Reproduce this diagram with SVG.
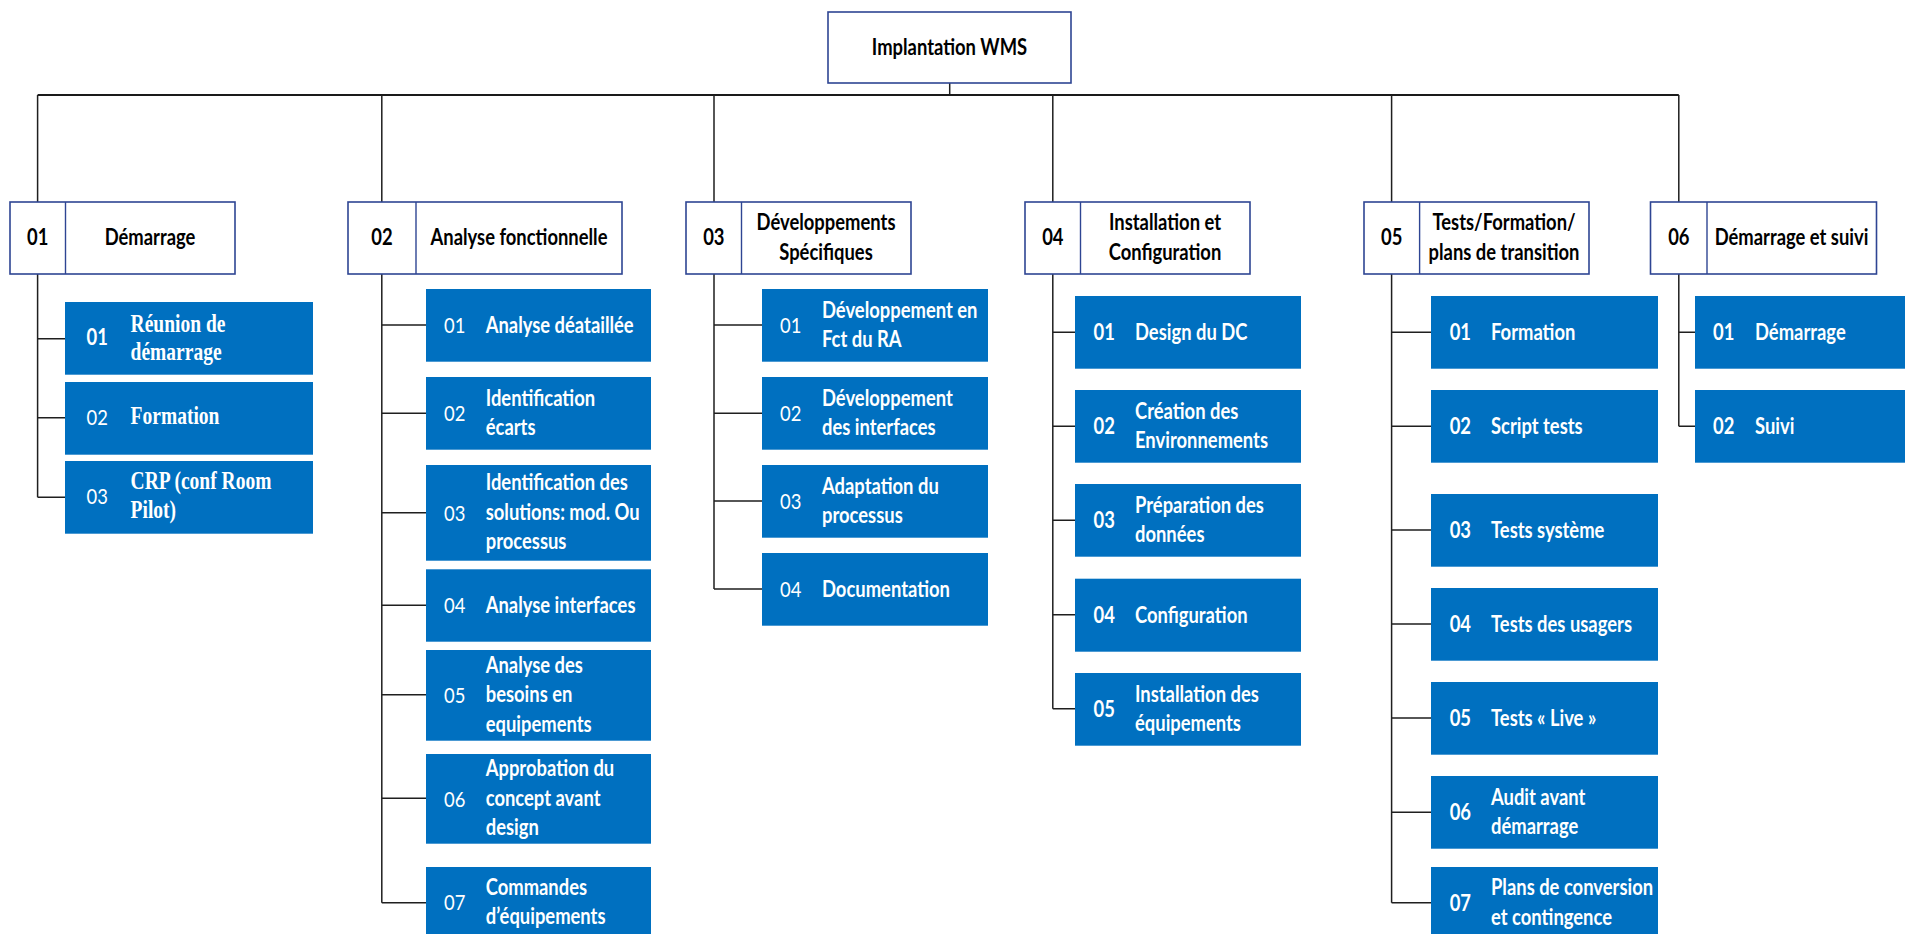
<svg xmlns="http://www.w3.org/2000/svg" width="1905" height="934" viewBox="0 0 1905 934">
  <style>
    .bg { fill: #ffffff; }
    .head { fill: #ffffff; stroke: #2E4593; stroke-width: 1.6; }
    .div { stroke: #2E4593; stroke-width: 1.4; }
    .task { fill: #0070C0; }
    .link { fill: none; stroke: #1f1f1f; stroke-width: 1.5; }
    .bus { fill: none; stroke: #1a1a1a; stroke-width: 2.2; }
    .t { font-family: Lato, "Liberation Sans", sans-serif; font-weight: 700; font-size: 18.4px; }
    .reg { font-weight: 400; }
    .serif { font-family: "Liberation Serif", "Times New Roman", serif; font-weight: 700; font-size: 19.5px; }
    .w { fill: #ffffff; }
    .k { fill: #000000; }
    .mid { text-anchor: middle; }
  </style>
  <rect class="bg" x="0" y="0" width="1905" height="934"/>

  <!-- connectors -->
  <g id="connectors">
    <path class="link" d="M949.7 83 V95"/>
    <path class="bus" d="M37.6 95 H1678.8"/>
    <path class="link" d="M37.6 95 V202 M381.8 95 V202 M714 95 V202 M1052.8 95 V202 M1391.6 95 V202 M1678.8 95 V202"/>
    <!-- column 01 -->
    <path class="link" d="M37.6 274 V497.3 M37.6 338.7 H65 M37.6 417.7 H65 M37.6 497.3 H65"/>
    <!-- column 02 -->
    <path class="link" d="M381.8 274 V902.7 M381.8 325 H426 M381.8 413.3 H426 M381.8 512.7 H426 M381.8 605.3 H426 M381.8 694.7 H426 M381.8 798.3 H426 M381.8 902.7 H426"/>
    <!-- column 03 -->
    <path class="link" d="M714 274 V589 M714 325 H762 M714 413.3 H762 M714 501 H762 M714 589 H762"/>
    <!-- column 04 -->
    <path class="link" d="M1052.8 274 V708.7 M1052.8 332.3 H1075 M1052.8 426.3 H1075 M1052.8 520.3 H1075 M1052.8 614.7 H1075 M1052.8 708.7 H1075"/>
    <!-- column 05 -->
    <path class="link" d="M1391.6 274 V902.7 M1391.6 332.3 H1431 M1391.6 426.3 H1431 M1391.6 530 H1431 M1391.6 624 H1431 M1391.6 718 H1431 M1391.6 812.3 H1431 M1391.6 902.7 H1431"/>
    <!-- column 06 -->
    <path class="link" d="M1678.8 274 V426.3 M1678.8 332.3 H1695 M1678.8 426.3 H1695"/>
  </g>

  <!-- root -->
  <g id="root">
    <rect class="head" x="828" y="12" width="243" height="71"/>
    <text class="t k mid" transform="matrix(1 0 0 1.2 949.5 55)">Implantation WMS</text>
  </g>

  <!-- phase headers -->
  <g id="phase-01">
    <rect class="head" x="10" y="202" width="225" height="72"/>
    <line class="div" x1="65.5" y1="202" x2="65.5" y2="274"/>
    <text class="t k mid" transform="matrix(1 0 0 1.2 37.7 245)">01</text>
    <text class="t k mid" transform="matrix(1 0 0 1.2 150 245)">Démarrage</text>
  </g>
  <g id="phase-02">
    <rect class="head" x="348" y="202" width="274" height="72"/>
    <line class="div" x1="416" y1="202" x2="416" y2="274"/>
    <text class="t k mid" transform="matrix(1 0 0 1.2 382 245)">02</text>
    <text class="t k mid" transform="matrix(1 0 0 1.2 519 245)">Analyse fonctionnelle</text>
  </g>
  <g id="phase-03">
    <rect class="head" x="686" y="202" width="225" height="72"/>
    <line class="div" x1="741.5" y1="202" x2="741.5" y2="274"/>
    <text class="t k mid" transform="matrix(1 0 0 1.2 713.8 245)">03</text>
    <text class="t k mid" transform="matrix(1 0 0 1.2 826 230)"><tspan x="0">Développements</tspan><tspan x="0" dy="24.6">Spécifiques</tspan></text>
  </g>
  <g id="phase-04">
    <rect class="head" x="1025" y="202" width="225" height="72"/>
    <line class="div" x1="1080.5" y1="202" x2="1080.5" y2="274"/>
    <text class="t k mid" transform="matrix(1 0 0 1.2 1052.8 245)">04</text>
    <text class="t k mid" transform="matrix(1 0 0 1.2 1165 230)"><tspan x="0">Installation et</tspan><tspan x="0" dy="24.6">Configuration</tspan></text>
  </g>
  <g id="phase-05">
    <rect class="head" x="1364" y="202" width="225" height="72"/>
    <line class="div" x1="1419.6" y1="202" x2="1419.6" y2="274"/>
    <text class="t k mid" transform="matrix(1 0 0 1.2 1391.7 245)">05</text>
    <text class="t k mid" transform="matrix(1 0 0 1.2 1504 230)"><tspan x="0">Tests/Formation/</tspan><tspan x="0" dy="24.6">plans de transition</tspan></text>
  </g>
  <g id="phase-06">
    <rect class="head" x="1650.5" y="202" width="226" height="72"/>
    <line class="div" x1="1707" y1="202" x2="1707" y2="274"/>
    <text class="t k mid" transform="matrix(1 0 0 1.2 1678.8 245)">06</text>
    <text class="t k mid" transform="matrix(1 0 0 1.2 1791.5 245)">Démarrage et suivi</text>
  </g>

  <!-- column 01 tasks -->
  <g id="task-01-01">
    <rect class="task" x="65" y="302" width="248" height="72.7"/>
    <text class="t w" transform="matrix(1 0 0 1.2 86.5 345)">01</text>
    <text class="serif w" transform="matrix(1 0 0 1.3 130.6 331.7)"><tspan x="0">Réunion de</tspan><tspan x="0" dy="21.8">démarrage</tspan></text>
  </g>
  <g id="task-01-02">
    <rect class="task" x="65" y="382" width="248" height="72.7"/>
    <text class="t reg w" transform="matrix(1 0 0 1.2 86.5 425)">02</text>
    <text class="serif w" transform="matrix(1 0 0 1.3 130.6 424)">Formation</text>
  </g>
  <g id="task-01-03">
    <rect class="task" x="65" y="461" width="248" height="72.7"/>
    <text class="t reg w" transform="matrix(1 0 0 1.2 86.5 504.3)">03</text>
    <text class="serif w" transform="matrix(1 0 0 1.3 130.6 489.3)"><tspan x="0">CRP (conf Room</tspan><tspan x="0" dy="21.8">Pilot)</tspan></text>
  </g>

  <!-- column 02 tasks -->
  <g id="task-02-01">
    <rect class="task" x="426" y="289" width="225" height="72.7"/>
    <text class="t reg w" transform="matrix(1 0 0 1.2 444 333)">01</text>
    <text class="t w" transform="matrix(1 0 0 1.2 485.7 333)">Analyse déataillée</text>
  </g>
  <g id="task-02-02">
    <rect class="task" x="426" y="377" width="225" height="72.7"/>
    <text class="t reg w" transform="matrix(1 0 0 1.2 444 421)">02</text>
    <text class="t w" transform="matrix(1 0 0 1.2 485.7 405.5)"><tspan x="0">Identification</tspan><tspan x="0" dy="24.6">écarts</tspan></text>
  </g>
  <g id="task-02-03">
    <rect class="task" x="426" y="465" width="225" height="95.7"/>
    <text class="t reg w" transform="matrix(1 0 0 1.2 444 520.5)">03</text>
    <text class="t w" transform="matrix(1 0 0 1.2 485.7 490.3)"><tspan x="0">Identification des</tspan><tspan x="0" dy="24.6">solutions: mod. Ou</tspan><tspan x="0" dy="24.6">processus</tspan></text>
  </g>
  <g id="task-02-04">
    <rect class="task" x="426" y="569.3" width="225" height="72.4"/>
    <text class="t reg w" transform="matrix(1 0 0 1.2 444 613.2)">04</text>
    <text class="t w" transform="matrix(1 0 0 1.2 485.7 613.2)">Analyse interfaces</text>
  </g>
  <g id="task-02-05">
    <rect class="task" x="426" y="650" width="225" height="90.7"/>
    <text class="t reg w" transform="matrix(1 0 0 1.2 444 703)">05</text>
    <text class="t w" transform="matrix(1 0 0 1.2 485.7 672.8)"><tspan x="0">Analyse des</tspan><tspan x="0" dy="24.6">besoins en</tspan><tspan x="0" dy="24.6">equipements</tspan></text>
  </g>
  <g id="task-02-06">
    <rect class="task" x="426" y="754" width="225" height="89.7"/>
    <text class="t reg w" transform="matrix(1 0 0 1.2 444 806.5)">06</text>
    <text class="t w" transform="matrix(1 0 0 1.2 485.7 776.3)"><tspan x="0">Approbation du</tspan><tspan x="0" dy="24.6">concept avant</tspan><tspan x="0" dy="24.6">design</tspan></text>
  </g>
  <g id="task-02-07">
    <rect class="task" x="426" y="867" width="225" height="72"/>
    <text class="t reg w" transform="matrix(1 0 0 1.2 444 910.2)">07</text>
    <text class="t w" transform="matrix(1 0 0 1.2 485.7 894.7)"><tspan x="0">Commandes</tspan><tspan x="0" dy="24.6">d’équipements</tspan></text>
  </g>

  <!-- column 03 tasks -->
  <g id="task-03-01">
    <rect class="task" x="762" y="289" width="226" height="72.7"/>
    <text class="t reg w" transform="matrix(1 0 0 1.2 780 333)">01</text>
    <text class="t w" transform="matrix(1 0 0 1.2 822 317.5)"><tspan x="0">Développement en</tspan><tspan x="0" dy="24.6">Fct du RA</tspan></text>
  </g>
  <g id="task-03-02">
    <rect class="task" x="762" y="377" width="226" height="72.7"/>
    <text class="t reg w" transform="matrix(1 0 0 1.2 780 421)">02</text>
    <text class="t w" transform="matrix(1 0 0 1.2 822 405.5)"><tspan x="0">Développement</tspan><tspan x="0" dy="24.6">des interfaces</tspan></text>
  </g>
  <g id="task-03-03">
    <rect class="task" x="762" y="465" width="226" height="72.7"/>
    <text class="t reg w" transform="matrix(1 0 0 1.2 780 509)">03</text>
    <text class="t w" transform="matrix(1 0 0 1.2 822 493.5)"><tspan x="0">Adaptation du</tspan><tspan x="0" dy="24.6">processus</tspan></text>
  </g>
  <g id="task-03-04">
    <rect class="task" x="762" y="553" width="226" height="72.7"/>
    <text class="t reg w" transform="matrix(1 0 0 1.2 780 597)">04</text>
    <text class="t w" transform="matrix(1 0 0 1.2 822 597)">Documentation</text>
  </g>

  <!-- column 04 tasks -->
  <g id="task-04-01">
    <rect class="task" x="1075" y="296" width="226" height="72.7"/>
    <text class="t w" transform="matrix(1 0 0 1.2 1093.5 340)">01</text>
    <text class="t w" transform="matrix(1 0 0 1.2 1135 340)">Design du DC</text>
  </g>
  <g id="task-04-02">
    <rect class="task" x="1075" y="390" width="226" height="72.7"/>
    <text class="t w" transform="matrix(1 0 0 1.2 1093.5 434)">02</text>
    <text class="t w" transform="matrix(1 0 0 1.2 1135 418.5)"><tspan x="0">Création des</tspan><tspan x="0" dy="24.6">Environnements</tspan></text>
  </g>
  <g id="task-04-03">
    <rect class="task" x="1075" y="484" width="226" height="72.7"/>
    <text class="t w" transform="matrix(1 0 0 1.2 1093.5 528)">03</text>
    <text class="t w" transform="matrix(1 0 0 1.2 1135 512.5)"><tspan x="0">Préparation des</tspan><tspan x="0" dy="24.6">données</tspan></text>
  </g>
  <g id="task-04-04">
    <rect class="task" x="1075" y="578.7" width="226" height="73"/>
    <text class="t w" transform="matrix(1 0 0 1.2 1093.5 622.9)">04</text>
    <text class="t w" transform="matrix(1 0 0 1.2 1135 622.9)">Configuration</text>
  </g>
  <g id="task-04-05">
    <rect class="task" x="1075" y="673" width="226" height="72.7"/>
    <text class="t w" transform="matrix(1 0 0 1.2 1093.5 717)">05</text>
    <text class="t w" transform="matrix(1 0 0 1.2 1135 701.5)"><tspan x="0">Installation des</tspan><tspan x="0" dy="24.6">équipements</tspan></text>
  </g>

  <!-- column 05 tasks -->
  <g id="task-05-01">
    <rect class="task" x="1431" y="296" width="227" height="72.7"/>
    <text class="t w" transform="matrix(1 0 0 1.2 1449.7 340)">01</text>
    <text class="t w" transform="matrix(1 0 0 1.2 1491 340)">Formation</text>
  </g>
  <g id="task-05-02">
    <rect class="task" x="1431" y="390" width="227" height="72.7"/>
    <text class="t w" transform="matrix(1 0 0 1.2 1449.7 434)">02</text>
    <text class="t w" transform="matrix(1 0 0 1.2 1491 434)">Script tests</text>
  </g>
  <g id="task-05-03">
    <rect class="task" x="1431" y="494" width="227" height="72.7"/>
    <text class="t w" transform="matrix(1 0 0 1.2 1449.7 538)">03</text>
    <text class="t w" transform="matrix(1 0 0 1.2 1491 538)">Tests système</text>
  </g>
  <g id="task-05-04">
    <rect class="task" x="1431" y="588" width="227" height="72.7"/>
    <text class="t w" transform="matrix(1 0 0 1.2 1449.7 632)">04</text>
    <text class="t w" transform="matrix(1 0 0 1.2 1491 632)">Tests des usagers</text>
  </g>
  <g id="task-05-05">
    <rect class="task" x="1431" y="682" width="227" height="72.7"/>
    <text class="t w" transform="matrix(1 0 0 1.2 1449.7 726)">05</text>
    <text class="t w" transform="matrix(1 0 0 1.2 1491 726)">Tests « Live »</text>
  </g>
  <g id="task-05-06">
    <rect class="task" x="1431" y="776" width="227" height="72.7"/>
    <text class="t w" transform="matrix(1 0 0 1.2 1449.7 820)">06</text>
    <text class="t w" transform="matrix(1 0 0 1.2 1491 804.5)"><tspan x="0">Audit avant</tspan><tspan x="0" dy="24.6">démarrage</tspan></text>
  </g>
  <g id="task-05-07">
    <rect class="task" x="1431" y="867" width="227" height="72"/>
    <text class="t w" transform="matrix(1 0 0 1.2 1449.7 910.7)">07</text>
    <text class="t w" transform="matrix(1 0 0 1.2 1491 895.2)"><tspan x="0">Plans de conversion</tspan><tspan x="0" dy="24.6">et contingence</tspan></text>
  </g>

  <!-- column 06 tasks -->
  <g id="task-06-01">
    <rect class="task" x="1695" y="296" width="226" height="72.7"/>
    <text class="t w" transform="matrix(1 0 0 1.2 1713 340)">01</text>
    <text class="t w" transform="matrix(1 0 0 1.2 1755 340)">Démarrage</text>
  </g>
  <g id="task-06-02">
    <rect class="task" x="1695" y="390" width="226" height="72.7"/>
    <text class="t w" transform="matrix(1 0 0 1.2 1713 434)">02</text>
    <text class="t w" transform="matrix(1 0 0 1.2 1755 434)">Suivi</text>
  </g>
</svg>
